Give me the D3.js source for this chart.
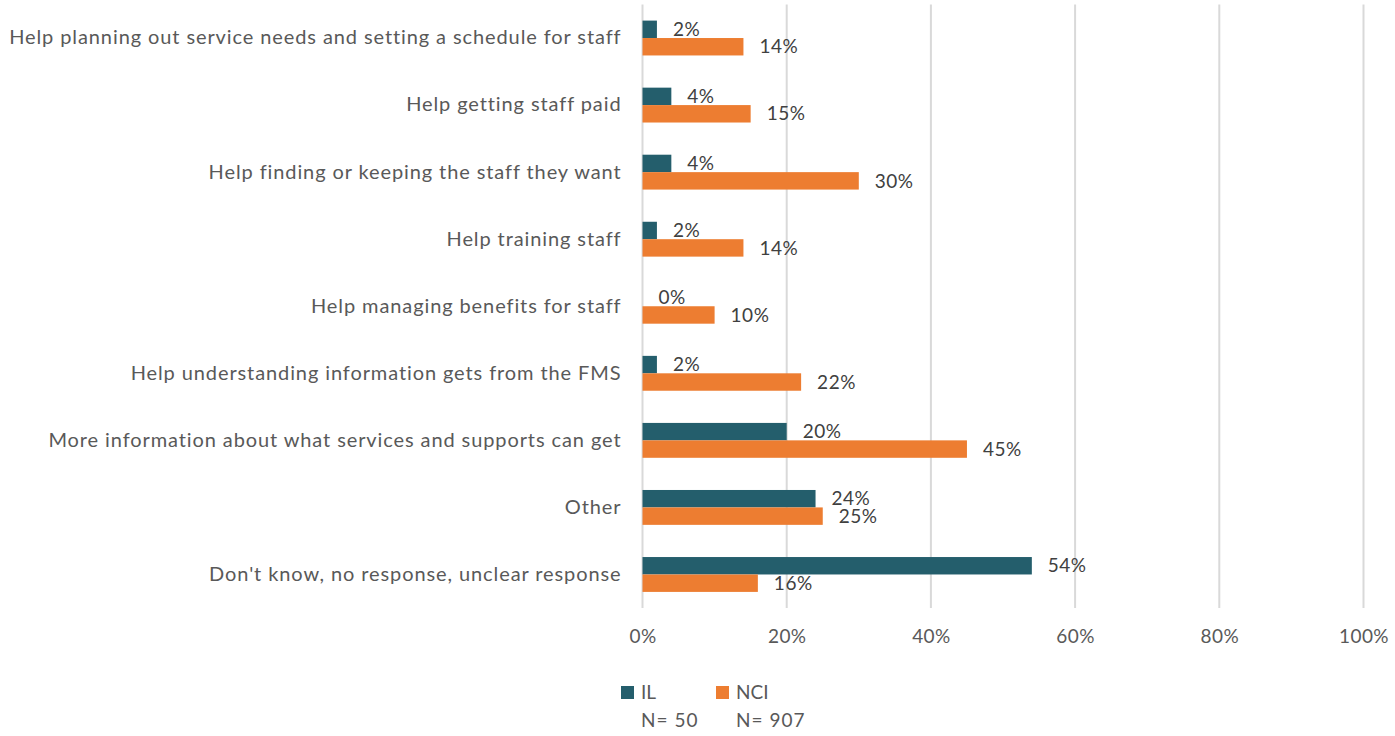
<!DOCTYPE html>
<html>
<head>
<meta charset="utf-8">
<script src="https://cdn.jsdelivr.net/npm/d3@7"></script>
<style>
  html, body { margin: 0; padding: 0; background: #fff; }
  svg { display: block; font-family: Lato, "Open Sans", sans-serif; }
</style>
</head>
<body>
<svg id="chart" width="1395" height="736"></svg>
<script>
// Categories, top to bottom
const categories = [
  "Help planning out service needs and setting a schedule for staff",
  "Help getting staff paid",
  "Help finding or keeping the staff they want",
  "Help training staff",
  "Help managing benefits for staff",
  "Help understanding information gets from the FMS",
  "More information about what services and supports can get",
  "Other",
  "Don't know, no response, unclear response"
];
// Percent of respondents
const ilValues  = [2, 4, 4, 2, 0, 2, 20, 24, 54];
const nciValues = [14, 15, 30, 14, 10, 22, 45, 25, 16];
const seriesNames = ["IL", "NCI"];
const seriesN = ["N= 50", "N= 907"];
const tickValues = [0, 20, 40, 60, 80, 100];

const colors = { IL: "#245E6C", NCI: "#ED7D31" };

const svg = d3.select("#chart");
const margin = { left: 642.5, right: 31.5, top: 4.5, bottom: 128 };
const width = 1395, height = 736;

const x = d3.scaleLinear().domain([0, 100]).range([margin.left, width - margin.right]);
const y = d3.scaleBand().domain(categories).range([margin.top, height - margin.bottom])
  .paddingInner(0.48).paddingOuter(0.24);
const sub = d3.scaleBand().domain(seriesNames).range([0, y.bandwidth()]);

// Vertical gridlines
svg.append("g")
  .selectAll("line")
  .data(tickValues)
  .join("line")
  .attr("x1", d => x(d)).attr("x2", d => x(d))
  .attr("y1", margin.top).attr("y2", height - margin.bottom)
  .attr("stroke", "#D9D9D9").attr("stroke-width", 2);

// X axis tick labels
const xAxis = d3.axisBottom(x).tickValues(tickValues).tickFormat(d => d + "%").tickSize(0).tickPadding(0);
const gx = svg.append("g").attr("transform", `translate(0, ${height - margin.bottom + 21})`).call(xAxis);
gx.select(".domain").remove();
gx.selectAll("text").attr("font-size", 19).attr("fill", "#595959")
  .attr("letter-spacing", 0.4).attr("font-family", "Lato, 'Open Sans', sans-serif");

// Category labels
const gy = svg.append("g").attr("transform", `translate(${margin.left - 21}, 0)`)
  .call(d3.axisLeft(y).tickSize(0).tickPadding(0));
gy.select(".domain").remove();
gy.selectAll("text").attr("font-size", 20).attr("fill", "#595959")
  .attr("letter-spacing", 0.9).attr("font-family", "Lato, 'Open Sans', sans-serif");

// Bars and value labels
const rows = categories.map((c, i) => ({ cat: c, IL: ilValues[i], NCI: nciValues[i] }));
const groups = svg.append("g").selectAll("g").data(rows).join("g")
  .attr("transform", d => `translate(0, ${y(d.cat)})`);

seriesNames.forEach(s => {
  groups.append("rect")
    .attr("x", x(0))
    .attr("y", sub(s))
    .attr("width", d => x(d[s]) - x(0))
    .attr("height", sub.bandwidth())
    .attr("fill", colors[s]);
  groups.append("text")
    .attr("x", d => x(d[s]) + 16)
    .attr("y", sub(s) + sub.bandwidth() / 2)
    .attr("dy", "0.35em")
    .attr("font-size", 19)
    .attr("letter-spacing", 0.5)
    .attr("fill", "#404040")
    .text(d => d[s] + "%");
});

// Legend
const legend = svg.append("g");
const legendX = [621, 716];
seriesNames.forEach((s, i) => {
  legend.append("rect").attr("x", legendX[i]).attr("y", 686).attr("width", 13).attr("height", 13).attr("fill", colors[s]);
  legend.append("text").attr("x", legendX[i] + 20).attr("y", 692).attr("dy", "0.35em")
    .attr("font-size", 19).attr("fill", "#595959").text(s);
  legend.append("text").attr("x", legendX[i] + 20).attr("y", 720).attr("dy", "0.35em")
    .attr("font-size", 19).attr("fill", "#595959").attr("letter-spacing", 1).text(seriesN[i]);
});
</script>
</body>
</html>
